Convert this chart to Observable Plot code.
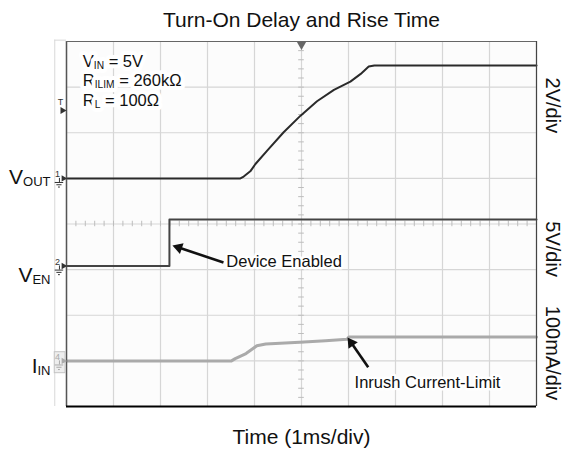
<!DOCTYPE html>
<html>
<head>
<meta charset="utf-8">
<script src="https://cdn.jsdelivr.net/npm/d3@7"></script>
<script src="https://cdn.jsdelivr.net/npm/@observablehq/plot@0.6"></script>
<style>
html,body{margin:0;padding:0;background:#fff;}
</style>
</head>
<body>
<div id="chart"></div>
<script>
// ---- Data (time in ms, 1 ms/div; 10 horizontal divisions, 8 vertical) ----
const voutTime  = [0, 3.70, 3.77, 3.91, 4.02, 4.27, 4.62, 4.98, 5.33, 5.69, 6.04, 6.26, 6.43, 6.55, 10];
const voutVolts = [0, 0,    0.08, 0.31, 0.63, 1.22, 2.02, 2.75, 3.38, 3.88, 4.24, 4.58, 4.90, 4.95, 4.95];
const venTime   = [0, 2.19, 2.19, 10];
const venVolts  = [0, 0,    5.1,  5.1];
const iinTime   = [0, 3.51, 3.59, 3.82, 4.05, 4.24, 4.96, 5.51, 5.97, 6.01, 10];
const iinMilliamps = [0, 0, 5, 16, 33, 37, 41, 44, 47.5, 52.6, 52.6];

const channels      = ["V_{OUT}", "V_{EN}", "I_{IN}"];
const channelMarks  = ["1", "2", "4"];
const channelScale  = [2, 5, 100];        // units per division
const channelGround = [5.0, 3.08, 1.0];   // ground reference (divisions from bottom)
const channelLabelShift = [0.03, -0.2, -0.11]; // label offset from ground (divisions)
const divLabels     = ["2V/div", "5V/div", "100mA/div"];
const divLabelPos   = [6.6, 3.45, 1.17];

const chartTitle = "Turn-On Delay and Rise Time";
const xLabel = "Time (1ms/div)";
const conditions = ["V_{IN} = 5V", "R_{ILIM} = 260kΩ", "R_{L} = 100Ω"];
const conditionY = [7.56, 7.13, 6.70];
const conditionX = 0.347;

const annotations = ["Device Enabled", "Inrush Current-Limit"];
const annotX = [3.40, 6.13];
const annotY = [3.18, 0.526];
const arrowTailX = [3.34, 6.42];
const arrowTailY = [3.156, 0.861];
const arrowHeadX = [2.255, 5.98];
const arrowHeadY = [3.53, 1.512];

const triggerLevel = 6.49;   // divisions
const triggerTime = 5;       // divisions

const gridXTicks = d3.range(0, 11);
const gridYTicks = d3.range(0, 9);
const minorX = d3.range(0, 10.01, 0.2);
const minorY = d3.range(0, 8.01, 0.2);

// ---- Build tables ----
const toDiv = (v, ch) => channelGround[ch] + v / channelScale[ch];
const vout = voutTime.map((t, i) => ({t, d: toDiv(voutVolts[i], 0)}));
const ven  = venTime.map((t, i) => ({t, d: toDiv(venVolts[i], 1)}));
const iin  = iinTime.map((t, i) => ({t, d: toDiv(iinMilliamps[i], 2)}));

const W = 566, H = 463;
const mL = 66, mR = 30, mT = 41, mB = 57;
const sx = d3.scaleLinear([0, 10], [mL, W - mR]);
const sy = d3.scaleLinear([0, 8], [H - mB, mT]);

// arrow heads (triangle placed so its tip is at the head point)
const arrows = annotations.map((a, i) => {
  const x1 = sx(arrowTailX[i]), y1 = sy(arrowTailY[i]);
  const x2 = sx(arrowHeadX[i]), y2 = sy(arrowHeadY[i]);
  const L = Math.hypot(x2 - x1, y2 - y1);
  const ux = (x2 - x1) / L, uy = (y2 - y1) / L;
  const back = 6.5;
  return {
    x1: arrowTailX[i], y1: arrowTailY[i],
    cx: sx.invert(x2 - ux * back), cy: sy.invert(y2 - uy * back),
    rot: Math.atan2(uy, ux) * 180 / Math.PI + 90
  };
});

const chData = channels.map((c, i) => ({c, m: channelMarks[i], g: channelGround[i],
  ly: channelGround[i] + channelLabelShift[i], color: i === 2 ? "#aaa" : "#333"}));

const ground = [];
chData.forEach(c => {
  ground.push({y: c.g - 0.09, x1: -0.24, x2: -0.06, color: c.color});
  ground.push({y: c.g - 0.14, x1: -0.205, x2: -0.095, color: c.color});
  ground.push({y: c.g - 0.19, x1: -0.17, x2: -0.13, color: c.color});
});

const font = "'Liberation Sans', Arial, Helvetica, sans-serif";

const plot = Plot.plot({
  width: W, height: H,
  marginLeft: mL, marginRight: mR, marginTop: mT, marginBottom: mB,
  x: {domain: [0, 10], axis: null},
  y: {domain: [0, 8], axis: null},
  style: {fontFamily: font, background: "#fff", color: "#111"},
  marks: [
    // scope screen background
    Plot.rect([0], {x1: 0, x2: 10, y1: 0, y2: 8, fill: "#fcfcfc"}),
    // faint outer strip
    Plot.ruleX([-0.25], {y1: 0, y2: 8.03, stroke: "#d8d8d8", strokeWidth: 1}),
    Plot.ruleY([8.03], {x1: -0.25, x2: 0, stroke: "#d8d8d8", strokeWidth: 1}),
    // grid
    Plot.ruleX(gridXTicks, {stroke: "#d6d6d6", strokeWidth: 1.2}),
    Plot.ruleY(gridYTicks, {stroke: "#d6d6d6", strokeWidth: 1.2}),
    // center minor ticks
    Plot.ruleX(minorX, {y1: 3.94, y2: 4.06, stroke: "#bdbdbd", strokeWidth: 1}),
    Plot.ruleY(minorY, {x1: 4.94, x2: 5.06, stroke: "#bdbdbd", strokeWidth: 1}),
    // annotation text box (white halo)
    Plot.text(conditions, {x: conditionX, y: (d, i) => conditionY[i], textAnchor: "start", lineAnchor: "middle",
      fontSize: 16.5, fill: "#111", stroke: "#fff", strokeWidth: 8, strokeLinejoin: "round", paintOrder: "stroke"}),
    // traces
    Plot.line(iin, {x: "t", y: "d", stroke: "#aaaaaa", strokeWidth: 3}),
    Plot.line(ven, {x: "t", y: "d", stroke: "#444", strokeWidth: 2}),
    Plot.line(vout, {x: "t", y: "d", stroke: "#2a2a2a", strokeWidth: 2}),
    // borders
    Plot.ruleX([0], {stroke: "#555", strokeWidth: 1.5}),
    Plot.ruleX([10], {stroke: "#444", strokeWidth: 1.2}),
    Plot.ruleY([8], {stroke: "#666", strokeWidth: 1}),
    Plot.ruleY([0], {stroke: "#000", strokeWidth: 2.2}),
    // trigger markers
    Plot.dot([triggerTime], {x: d => d, y: 8, dy: 3, symbol: "triangle", rotate: 180, r: 3.5, fill: "#666", stroke: "none"}),
    Plot.dot([triggerLevel], {x: 0, y: d => d, dx: -4, symbol: "triangle", rotate: 90, r: 2.6, fill: "#333", stroke: "none"}),
    Plot.text(["T"], {x: 0, y: triggerLevel, dx: -6, dy: -8, fontSize: 9, fill: "#333"}),
    // channel ground markers
    Plot.rect(chData.filter(c => c.m === "4"), {x1: -0.25, x2: -0.02, y1: d => d.g - 0.27, y2: d => d.g + 0.19, fill: "#eeeeee", stroke: "#c4c4c4"}),
    Plot.text(chData, {x: 0, y: "g", text: "m", dx: -9, dy: -4, fontSize: 9, fill: "color"}),
    Plot.dot(chData, {x: 0, y: "g", dx: -3, symbol: "triangle", rotate: 90, r: 2.4, fill: "color", stroke: "none"}),
    Plot.ruleX(chData, {x: -0.15, y1: "g", y2: d => d.g - 0.09, stroke: "color", strokeWidth: 1}),
    Plot.ruleY(ground, {y: "y", x1: "x1", x2: "x2", stroke: "color", strokeWidth: 1}),
    // channel names
    Plot.text(chData, {x: 0, y: "ly", text: "c", dx: -16, textAnchor: "end", lineAnchor: "middle", fontSize: 21, fill: "#111"}),
    // volts/div labels
    Plot.text(divLabels, {x: 10, y: (d, i) => divLabelPos[i], dx: 9, rotate: 90, lineAnchor: "bottom", fontSize: 20, fill: "#111"}),
    // arrows
    Plot.link(arrows, {x1: "x1", y1: "y1", x2: "cx", y2: "cy", stroke: "#111", strokeWidth: 2.6}),
    Plot.dot(arrows, {x: "cx", y: "cy", rotate: "rot", symbol: "triangle", r: 4.2, fill: "#111", stroke: "none"}),
    Plot.text(annotations, {x: (d, i) => annotX[i], y: (d, i) => annotY[i], textAnchor: "start", lineAnchor: "middle",
      fontSize: 16.5, fill: "#111", stroke: "#fff", strokeWidth: 5, strokeLinejoin: "round", paintOrder: "stroke"}),
    // title and x label
    Plot.text([chartTitle], {frameAnchor: "top", lineAnchor: "middle", dy: -21, fontSize: 21, fill: "#111"}),
    Plot.text([xLabel], {frameAnchor: "bottom", lineAnchor: "middle", dy: 31, fontSize: 21, fill: "#111"})
  ]
});

document.getElementById("chart").appendChild(plot);

// render "_{...}" as subscripts
function subscripts(svg, ratio = 0.62, shift = 0.1) {
  svg.querySelectorAll("text").forEach(t => {
    const s = t.textContent;
    if (!s.includes("_{")) return;
    const fs = parseFloat(getComputedStyle(t).fontSize);
    const parts = s.split(/_\{([^}]*)\}/);
    t.textContent = "";
    let down = 0;
    parts.forEach((p, i) => {
      if (p === "") return;
      const ts = document.createElementNS("http://www.w3.org/2000/svg", "tspan");
      ts.textContent = p;
      const isSub = i % 2 === 1;
      const target = isSub ? fs * shift : 0;
      const dy = target - down;
      if (dy) ts.setAttribute("dy", dy);
      down = target;
      if (isSub) ts.setAttribute("font-size", fs * ratio);
      t.appendChild(ts);
    });
  });
}
subscripts(plot);
</script>
</body>
</html>
